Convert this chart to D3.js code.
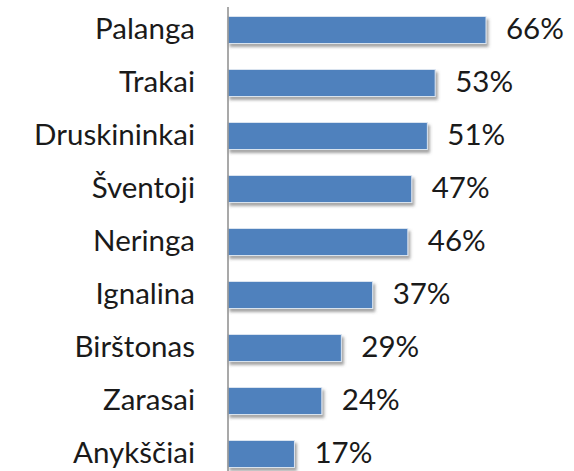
<!DOCTYPE html>
<html>
<head>
<meta charset="utf-8">
<script src="https://cdnjs.cloudflare.com/ajax/libs/d3/7.8.5/d3.min.js"></script>
<style>
  body { margin: 0; background: #fff; }
  text { font-family: Lato, "Open Sans", sans-serif; }
</style>
</head>
<body>
<div id="chart"></div>
<script>
var towns = ["Palanga", "Trakai", "Druskininkai", "Šventoji", "Neringa", "Ignalina", "Birštonas", "Zarasai", "Anykščiai"];
var shares = [66, 53, 51, 47, 46, 37, 29, 24, 17];

var width = 574, height = 471;
var axisX = 228;
var fontSize = 29.5;

var svg = d3.select("#chart").append("svg")
  .attr("width", width)
  .attr("height", height);

var defs = svg.append("defs");
var shadow = defs.append("filter")
  .attr("id", "shadow")
  .attr("x", "-10%").attr("y", "-30%")
  .attr("width", "130%").attr("height", "180%");
shadow.append("feDropShadow")
  .attr("dx", 2).attr("dy", 3)
  .attr("stdDeviation", 1.6)
  .attr("flood-color", "#555")
  .attr("flood-opacity", 0.55);

var x = d3.scaleLinear()
  .domain([0, 66])
  .range([axisX, 486]);

var y = d3.scaleBand()
  .domain(towns)
  .range([3.5, 480.5])
  .paddingInner(0.49)
  .paddingOuter(0.245);

var rows = svg.selectAll(".row")
  .data(towns)
  .enter()
  .append("g")
  .attr("class", "row");

rows.append("rect")
  .attr("x", x(0))
  .attr("y", function(d) { return y(d); })
  .attr("width", function(d, i) { return x(shares[i]) - x(0); })
  .attr("height", y.bandwidth())
  .attr("fill", "#4f81bd")
  .attr("stroke", "#dbe4f0")
  .attr("stroke-width", 1)
  .attr("filter", "url(#shadow)");

rows.append("text")
  .attr("x", function(d, i) { return x(shares[i]) + 20; })
  .attr("y", function(d) { return y(d) + y.bandwidth() / 2; })
  .attr("dy", "0.3em")
  .attr("font-size", fontSize)
  .attr("fill", "#1a1a1a")
  .text(function(d, i) { return shares[i] + "%"; });

// category axis
var yAxis = d3.axisLeft(y).tickSize(0).tickPadding(33);
var gy = svg.append("g")
  .attr("transform", "translate(" + axisX + ",0)")
  .call(yAxis);
gy.select(".domain").remove();
gy.selectAll("text")
  .attr("font-size", fontSize)
  .attr("dy", "0.3em")
  .attr("fill", "#1a1a1a")
  .style("font-family", "Lato, 'Open Sans', sans-serif");

svg.append("line")
  .attr("x1", axisX).attr("x2", axisX)
  .attr("y1", 7).attr("y2", height)
  .attr("stroke", "#8c8c8c")
  .attr("stroke-width", 1.5);
</script>
</body>
</html>
